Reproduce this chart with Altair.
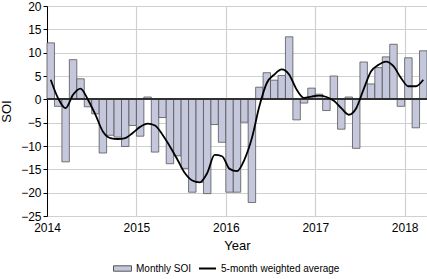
import altair as alt
import pandas as pd

start_year = 2014
year_ticks = [2014, 2015, 2016, 2017, 2018]

# Monthly SOI, Jan 2014 .. Mar 2018
monthly_soi = [
    12.1, -1.5, -13.4, 8.5, 4.4, -1.6, -3.1, -11.5, -7.7, -8.1, -10.1, -5.6,
    -7.9, 0.5, -11.3, -3.9, -13.8, -12.1, -14.8, -19.9, -17.8, -20.2, -5.4, -9.2,
    -19.9, -19.9, -4.9, -22.1, 2.6, 5.7, 4.1, 5.1, 13.4, -4.4, -0.8, 2.4,
    1.1, -2.4, 5.0, -6.4, 0.5, -10.5, 8.0, 3.3, 6.8, 9.1, 11.8, -1.5,
    8.9, -6.1, 10.4,
]

# 5-month weighted average
weighted_avg = [
    4.2, 0.2, -1.9, 1.0, 2.3, -0.1, -3.3, -6.9, -8.3, -8.5, -8.3, -7.2,
    -5.9, -5.2, -5.6, -7.6, -10.1, -12.9, -15.8, -17.4, -17.8, -15.8, -11.9, -12.2,
    -14.9, -15.4, -12.9, -8.3, -1.5, 3.5, 5.3, 6.4, 5.3, 2.1, 0.3, 0.6,
    0.8, 0.5, -0.3, -1.9, -3.3, -1.9, 2.2, 6.0, 7.4, 8.1, 7.1, 4.6,
    2.8, 2.8, 4.2,
]

series_names = ["Monthly SOI", "5-month weighted average"]

df = pd.DataFrame({
    "i": list(range(len(monthly_soi))),
    "soi": monthly_soi,
    "avg": weighted_avg,
})

FONT = "Liberation Sans"

base = alt.Chart(df).transform_calculate(
    x0=f"{start_year} + datum.i / 12",
    x1=f"{start_year} + (datum.i + 1) / 12",
    xm=f"{start_year} + (datum.i + 0.5) / 12",
    s=f"'{series_names[0]}'",
    t=f"'{series_names[1]}'",
)

xscale = alt.Scale(domain=[2014, 2018.25], nice=False, zero=False, padding=0)
yscale = alt.Scale(domain=[-25, 20], nice=False, zero=False, padding=0)

x_axis = alt.Axis(
    values=year_ticks, format="d", domain=False, ticks=False, grid=True,
    gridColor="#d0d0d0", gridWidth=1.2, labelFontSize=12, labelColor="black",
    labelPadding=6, labelOverlap=False, labelFlush=False, title="Year",
    titleFontSize=13, titleFontWeight="normal", titleColor="black",
    titlePadding=6, labelFont=FONT, titleFont=FONT,
)
y_axis = alt.Axis(
    values=list(range(-25, 25, 5)), format="d", domainColor="black",
    tickColor="black", tickSize=4, grid=True, gridColor="#d0d0d0",
    gridWidth=1.2, labelFontSize=12, labelColor="black", labelPadding=2,
    labelOverlap=False, labelFlush=False, title="SOI", titleFontSize=13,
    titleFontWeight="normal", titleColor="black", titlePadding=7,
    labelFont=FONT, titleFont=FONT,
)

bars = base.mark_bar(stroke="#555555", strokeWidth=0.8, orient="vertical").encode(
    x=alt.X("x0:Q", scale=xscale, axis=x_axis),
    x2="x1:Q",
    y=alt.Y("soi:Q", scale=yscale, axis=y_axis),
    y2=alt.datum(0),
    fill=alt.Fill(
        "s:N",
        scale=alt.Scale(domain=[series_names[0]], range=["#c5c8dc"]),
        legend=alt.Legend(
            orient="none", legendX=66, legendY=253, title=None,
            symbolType="M-1,-0.3H1V0.3H-1Z", symbolSize=324,
            symbolStrokeColor="#555555", symbolStrokeWidth=1,
            labelFontSize=10, labelFont=FONT, labelColor="black",
            padding=0,
        ),
    ),
)

zero = alt.Chart(df).mark_rule(color="#333333", strokeWidth=1).encode(
    y=alt.datum(0, scale=yscale, axis=y_axis)
)

line = base.mark_line(strokeWidth=1.8, interpolate="monotone").encode(
    x=alt.X("xm:Q", scale=xscale, axis=x_axis),
    y=alt.Y("avg:Q", scale=yscale, axis=y_axis),
    stroke=alt.Stroke(
        "t:N",
        scale=alt.Scale(domain=[series_names[1]], range=["black"]),
        legend=alt.Legend(
            orient="none", legendX=151, legendY=253, title=None,
            symbolType="stroke", symbolSize=289, symbolStrokeWidth=2,
            labelFontSize=10, labelFont=FONT, labelColor="black",
            padding=0,
        ),
    ),
)

chart = alt.layer(bars, zero, line).properties(
    width=380, height=210,
    autosize=alt.AutoSizeParams(type="none"),
    padding={"left": 47, "top": 6, "right": 0, "bottom": 63},
).configure_view(stroke=None).configure(font=FONT)

chart.save("out.html", embed_options={"renderer": "svg", "actions": False})
